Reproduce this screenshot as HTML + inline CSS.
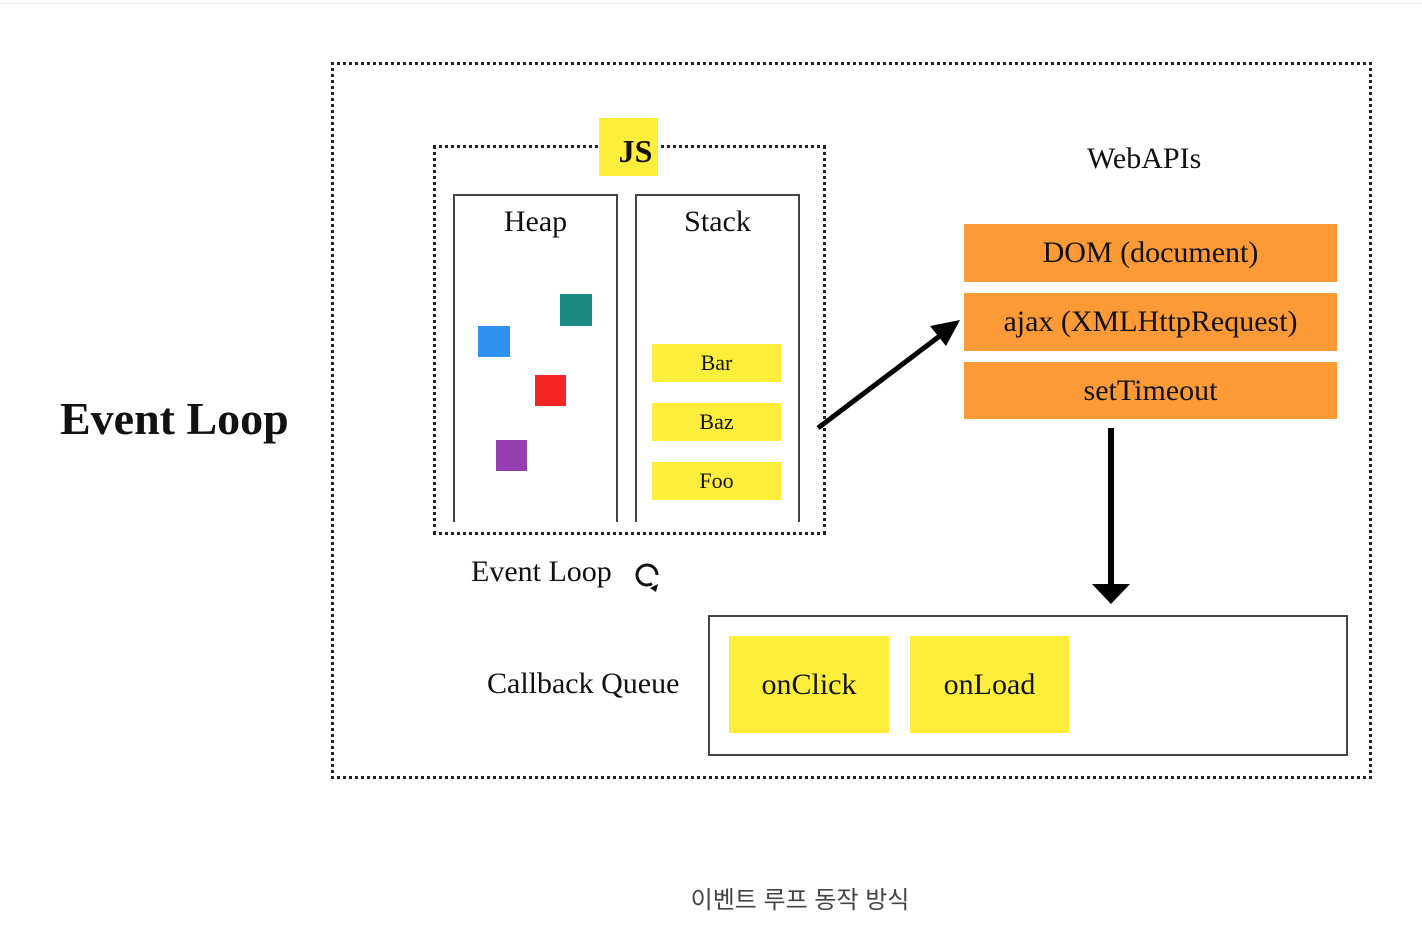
<!DOCTYPE html>
<html><head><meta charset="utf-8"><style>
body{margin:0;width:1422px;height:942px;background:#fff;position:relative;overflow:hidden;font-family:"Liberation Serif",serif;color:#111}
.a{position:absolute}
.c{display:flex;align-items:center;justify-content:center}
.y{background:#fdee3b}
.o{background:#fb9a37}
</style></head><body>
<div class="a" style="left:0;top:3px;width:1422px;height:1px;background:#eee"></div>
<div class="a" style="left:331px;top:62px;width:1035px;height:711px;border:3px dotted #222"></div>
<div class="a" style="left:60px;top:392px;font-size:46px;font-weight:bold">Event Loop</div>
<div class="a" style="left:433px;top:145px;width:387px;height:384px;border:3px dotted #222"></div>
<div class="a y c" style="left:599px;top:118px;width:59px;height:58px;font-size:32px;font-weight:bold;padding:8px 0 0 14px;box-sizing:border-box">JS</div>
<div class="a" style="left:453px;top:194px;width:161px;height:326px;border:2px solid #444;border-bottom:none"></div>
<div class="a" style="left:635px;top:194px;width:161px;height:326px;border:2px solid #444;border-bottom:none"></div>
<div class="a" style="left:453px;top:205px;width:165px;text-align:center;font-size:30px">Heap</div>
<div class="a" style="left:635px;top:205px;width:165px;text-align:center;font-size:30px">Stack</div>
<div class="a" style="left:560px;top:294px;width:32px;height:32px;background:#1b8a82"></div>
<div class="a" style="left:478px;top:326px;width:32px;height:31px;background:#3092f0"></div>
<div class="a" style="left:535px;top:375px;width:31px;height:31px;background:#f22424"></div>
<div class="a" style="left:496px;top:440px;width:31px;height:31px;background:#953fb0"></div>
<div class="a y c" style="left:652px;top:344px;width:129px;height:38px;font-size:22px">Bar</div>
<div class="a y c" style="left:652px;top:403px;width:129px;height:38px;font-size:22px">Baz</div>
<div class="a y c" style="left:652px;top:462px;width:129px;height:38px;font-size:22px">Foo</div>
<div class="a" style="left:471px;top:555px;font-size:30px">Event Loop</div>
<svg class="a" style="left:0;top:0" width="1422" height="942">
<circle cx="647" cy="575" r="10" fill="none" stroke="#111" stroke-width="3" stroke-dasharray="52 20" transform="rotate(60 647 575)"/>
<path d="M650 588 L658 584 L656 592Z" fill="#111"/>
<line x1="818" y1="428" x2="945" y2="332" stroke="#000" stroke-width="5"/>
<path d="M960 320 L930 326 L946 346Z" fill="#000"/>
<line x1="1111" y1="428" x2="1111" y2="588" stroke="#000" stroke-width="6"/>
<path d="M1092 584 L1130 584 L1111 604Z" fill="#000"/>
</svg>
<div class="a" style="left:1087px;top:142px;font-size:30px">WebAPIs</div>
<div class="a o c" style="left:964px;top:224px;width:373px;height:58px;font-size:30px">DOM (document)</div>
<div class="a o c" style="left:964px;top:293px;width:373px;height:58px;font-size:30px">ajax (XMLHttpRequest)</div>
<div class="a o c" style="left:964px;top:362px;width:373px;height:57px;font-size:30px">setTimeout</div>
<div class="a" style="left:487px;top:667px;font-size:30px">Callback Queue</div>
<div class="a" style="left:708px;top:615px;width:636px;height:137px;border:2px solid #444"></div>
<div class="a y c" style="left:729px;top:636px;width:160px;height:97px;font-size:30px">onClick</div>
<div class="a y c" style="left:910px;top:636px;width:159px;height:97px;font-size:30px">onLoad</div>
<div class="a" style="left:0;top:880px;width:1600px;text-align:center;font-family:'Liberation Sans','Noto Sans CJK KR',sans-serif;font-size:24px;color:#444">이벤트 루프 동작 방식</div>
</body></html>
